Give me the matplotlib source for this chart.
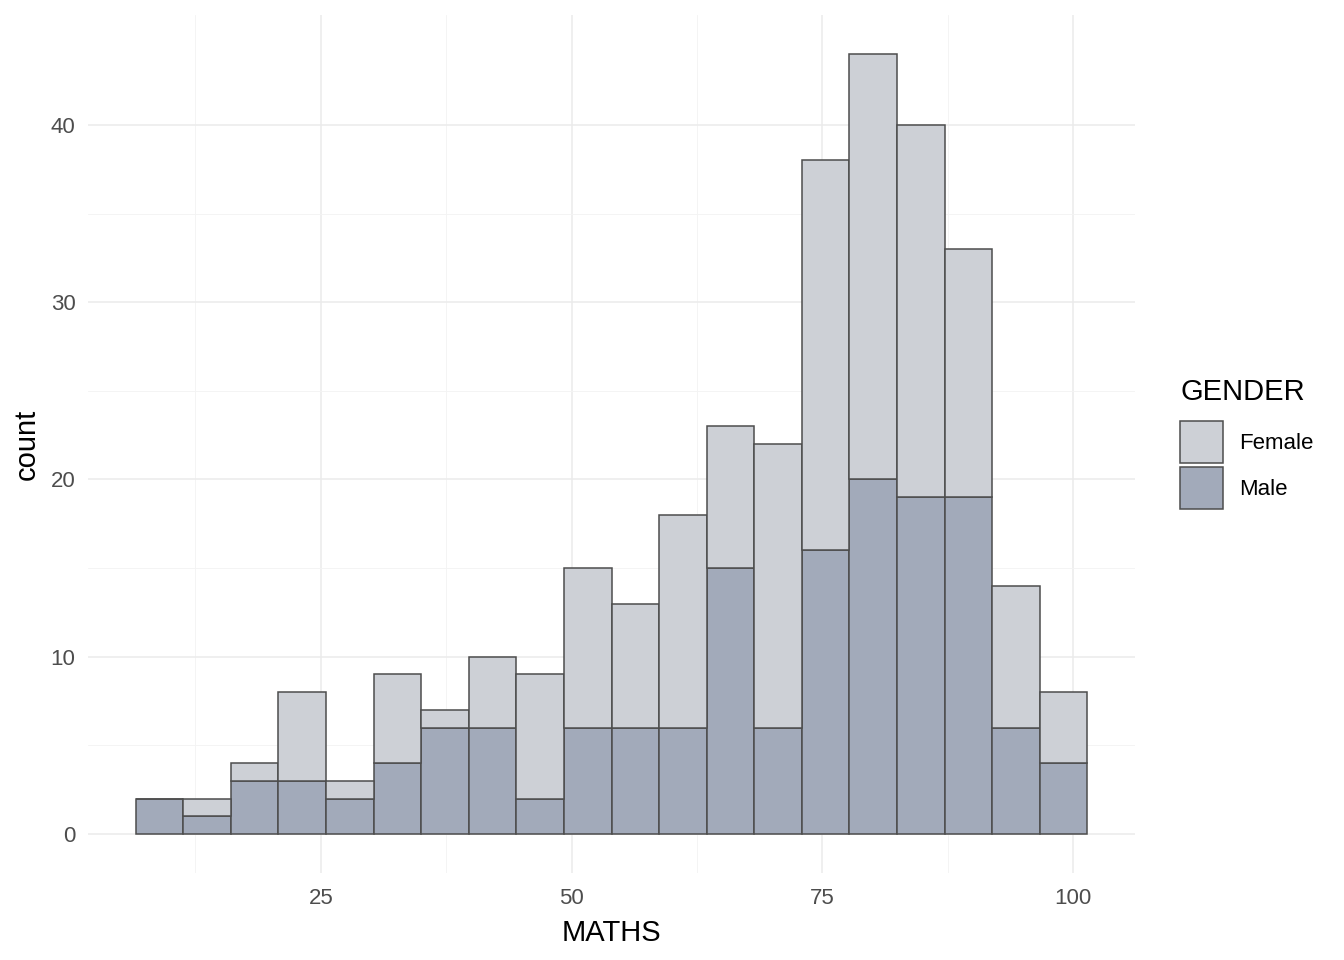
import matplotlib
matplotlib.use('Agg')
import matplotlib.pyplot as plt
from matplotlib.patches import Patch

plt.rcParams['font.family'] = ['Liberation Sans', 'DejaVu Sans']

# histogram of MATHS scores, 20 bins, stacked by gender
bin_start = 6.54
bin_width = 4.745
male_counts = [2, 1, 3, 3, 2, 4, 6, 6, 2, 6, 6, 6, 15, 6, 16, 20, 19, 19, 6, 4]
female_counts = [0, 1, 1, 5, 1, 5, 1, 4, 7, 9, 7, 12, 8, 16, 22, 24, 21, 14, 8, 4]
groups = ['Female', 'Male']
colors = {'Female': '#CDD0D6', 'Male': '#A2AABA'}
edge = '#4D4D4D'

x_ticks = [25, 50, 75, 100]
y_ticks = [0, 10, 20, 30, 40]

fig = plt.figure(figsize=(13.44, 9.6), dpi=100)
ax = fig.add_axes([0.0655, 0.0906, 0.779, 0.8938])

lefts = [bin_start + i * bin_width for i in range(len(male_counts))]
ax.bar(lefts, male_counts, width=bin_width, align='edge', color=colors['Male'],
       edgecolor=edge, linewidth=1.1, zorder=3)
ax.bar(lefts, female_counts, bottom=male_counts, width=bin_width, align='edge',
       color=colors['Female'], edgecolor=edge, linewidth=1.1, zorder=3)

xmin, xmax = bin_start, bin_start + bin_width * len(male_counts)
pad = (xmax - xmin) * 0.05
ax.set_xlim(xmin - pad, xmax + pad)
ymax = max(m + f for m, f in zip(male_counts, female_counts))
ax.set_ylim(-ymax * 0.05, ymax * 1.05)

ax.set_xticks(x_ticks)
ax.set_yticks(y_ticks)
ax.set_xticks([12.5, 37.5, 62.5, 87.5], minor=True)
ax.set_yticks([5, 15, 25, 35], minor=True)
ax.grid(True, which='major', color='#EBEBEB', linewidth=1.1, zorder=0)
ax.grid(True, which='minor', color='#F3F3F3', linewidth=0.6, zorder=0)
ax.tick_params(which='both', length=0)
ax.tick_params(axis='x', labelsize=16, colors='#4D4D4D', pad=11)
ax.tick_params(axis='y', labelsize=16, colors='#4D4D4D', pad=9)
for s in ax.spines.values():
    s.set_visible(False)

ax.set_xlabel('MATHS', fontsize=21, color='black', labelpad=7)
ax.set_ylabel('count', fontsize=21, color='black', labelpad=7)

# legend: title drawn separately so the gap to the keys matches
fig.text(0.878, 0.5917, 'GENDER', fontsize=21, ha='left', va='center')
handles = [Patch(facecolor=colors[g], edgecolor=edge, linewidth=1.1, label=g) for g in groups]
fig.legend(handles=handles, loc='upper left',
           bbox_to_anchor=(0.8782, 0.5615), frameon=False, fontsize=16,
           handlelength=1.9, handleheight=2.52, borderpad=0,
           handletextpad=0.75, labelspacing=0.2, borderaxespad=0)

fig.savefig('out.png', dpi=100)
